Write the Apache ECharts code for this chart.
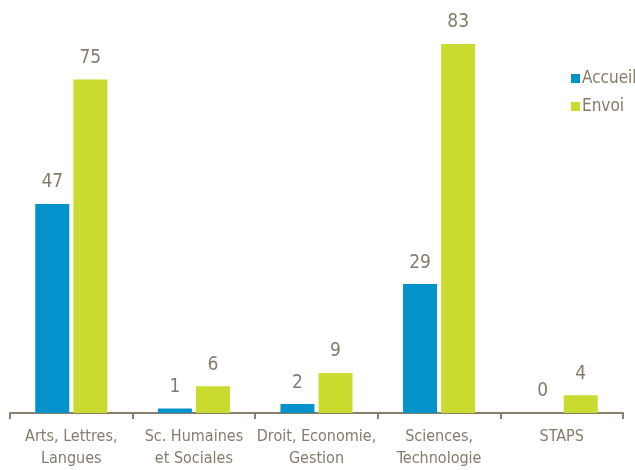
<!DOCTYPE html>
<html><head><meta charset="utf-8">
<script src="https://cdn.jsdelivr.net/npm/echarts@6/dist/echarts.min.js"></script>
<style>html,body{margin:0;padding:0;background:#fff}#c{width:635px;height:470px}</style>
</head><body><div id="c"></div>
<script>
const categories = ['Arts, Lettres,\nLangues', 'Sc. Humaines\net Sociales', 'Droit, Economie,\nGestion', 'Sciences,\nTechnologie', 'STAPS'];
const accueil = [47, 1, 2, 29, 0];
const envoi = [75, 6, 9, 83, 4];
const FONT = '"Liberation Sans Narrow", "DejaVu Sans Condensed", "Arial Narrow", sans-serif';
const TXT = '#857b6c';
const chart = echarts.init(document.getElementById('c'));
chart.setOption({
  animation: false,
  textStyle: { fontFamily: FONT },
  grid: { left: 10, right: 12, top: 44, bottom: 55, containLabel: false },
  legend: {
    orient: 'vertical', left: 566, top: 65, itemWidth: 9, itemHeight: 9, itemGap: 11,
    icon: 'rect',
    textStyle: { color: TXT, fontSize: 17, fontFamily: FONT, padding: [0, 0, 0, -3] },
    data: ['Accueil', 'Envoi']
  },
  xAxis: {
    type: 'category', data: categories,
    axisLine: { lineStyle: { color: '#8a7f6e', width: 2 } },
    axisTick: { show: true, length: 6, lineStyle: { color: '#8a7f6e', width: 2 } },
    axisLabel: { color: TXT, fontSize: 16, fontFamily: FONT, lineHeight: 22, margin: 13, interval: 0 }
  },
  yAxis: { type: 'value', min: 0, max: 83, show: false, splitLine: { show: false } },
  series: [
    { name: 'Accueil', type: 'bar', data: accueil, barWidth: 34, barGap: '12%',
      itemStyle: { color: '#0392c9' },
      label: { show: true, position: 'top', distance: 12, color: TXT, fontSize: 19, fontFamily: FONT } },
    { name: 'Envoi', type: 'bar', data: envoi, barWidth: 34,
      itemStyle: { color: '#c9db2f' },
      label: { show: true, position: 'top', distance: 12, color: TXT, fontSize: 19, fontFamily: FONT } }
  ]
});
</script></body></html>
